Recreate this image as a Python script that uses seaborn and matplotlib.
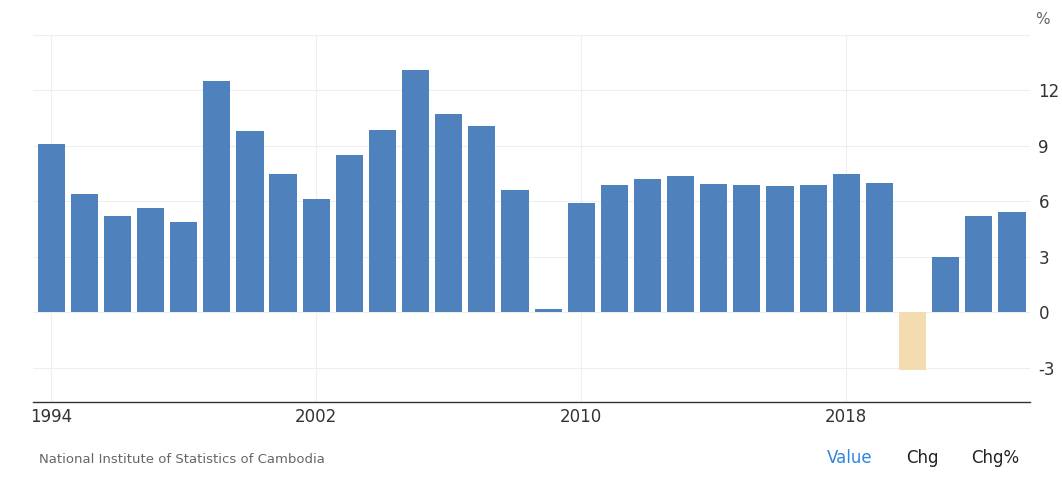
import matplotlib
matplotlib.use("Agg")
import matplotlib.pyplot as plt
import seaborn as sns
import pandas as pd

years = list(range(1994, 2024))
values = [9.1, 6.4, 5.2, 5.65, 4.9, 12.5, 9.8, 7.5, 6.1, 8.5, 9.85, 13.1, 10.7, 10.1, 6.6, 0.2,
          5.9, 6.9, 7.2, 7.35, 6.95, 6.9, 6.85, 6.9, 7.5, 7.0, -3.1, 3.0, 5.2, 5.4]
tick_years = [1994, 2002, 2010, 2018]

sns.set_theme(style="white")
plt.rcParams['font.family'] = ['DejaVu Sans']
df = pd.DataFrame({"year": [str(y) for y in years], "v": values})
colors = ["#4f81bd" if v >= 0 else "#f2dcb0" for v in values]

fig = plt.figure(figsize=(10.62, 4.78), dpi=100)
ax = fig.add_axes([0.031, 0.159, 0.939, 0.768])
sns.barplot(data=df, x="year", y="v", hue="year", palette=colors, legend=False, ax=ax,
            width=0.82, saturation=1, linewidth=0)
ax.set_ylim(-4.85, 14.9)
ax.set_xlim(-0.55, len(years) - 0.45)
ax.yaxis.tick_right()
ax.set_yticks([-3, 0, 3, 6, 9, 12, 15])
ax.set_yticklabels(["-3", "0", "3", "6", "9", "12", ""], fontsize=12, color="#333333")
pos = [years.index(y) for y in tick_years]
ax.set_xticks(pos)
ax.set_xticklabels([str(y) for y in tick_years], fontsize=12, color="#333333")
ax.tick_params(axis="y", length=0, pad=6)
ax.tick_params(axis="x", length=0, pad=4)
ax.grid(True, color="#eeeeee", linewidth=0.8)
ax.set_axisbelow(True)
ax.set_xlabel(""); ax.set_ylabel("")
for s in ["top", "right", "left"]:
    ax.spines[s].set_visible(False)
ax.spines["bottom"].set_color("#333333")
ax.spines["bottom"].set_linewidth(1)
fig.text(0.975, 0.975, "%", fontsize=11, color="#666666", ha="left", va="top")
fig.text(0.037, 0.032, "National Institute of Statistics of Cambodia", fontsize=9.5, color="#666666")
fig.text(0.779, 0.032, "Value", fontsize=12, color="#2e86de")
fig.text(0.853, 0.032, "Chg", fontsize=12, color="#222222")
fig.text(0.914, 0.032, "Chg%", fontsize=12, color="#222222")
fig.savefig("out.png", dpi=100)
